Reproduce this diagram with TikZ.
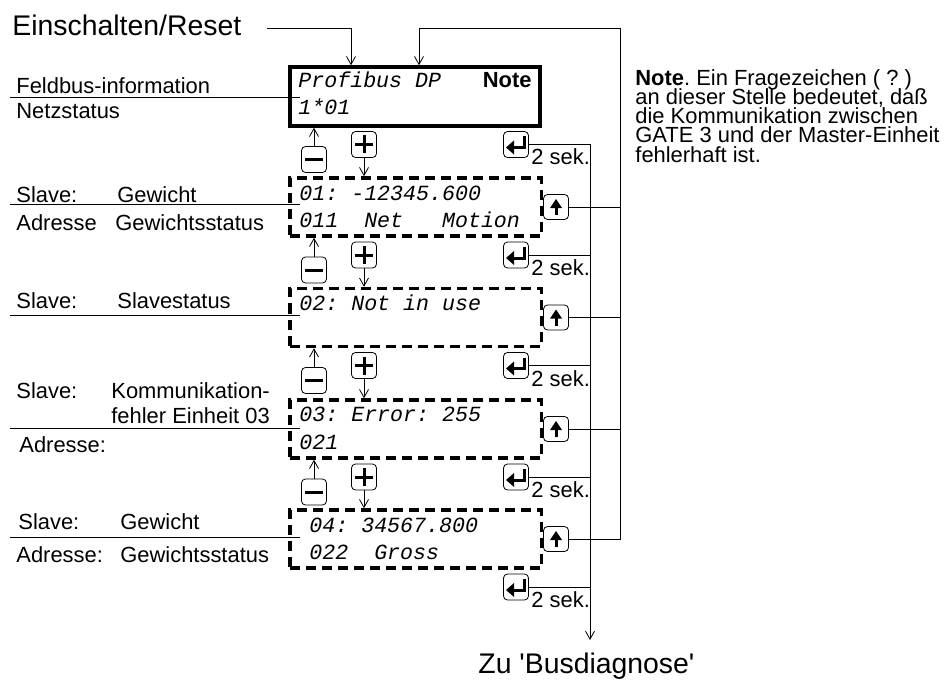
\documentclass[tikz,border=0pt]{standalone}
\usepackage{fontspec}
\setmainfont{Liberation Sans}
\newfontfamily\lcd{Liberation Mono}
\usetikzlibrary{arrows.meta,calc}
\newcommand{\lcdfont}{\lcd\itshape\fontsize{21.7}{24}\selectfont\frenchspacing}
\lineskiplimit=-50pt
\frenchspacing

\tikzset{
  txt/.style={inner sep=0pt,anchor=base west,font=\fontsize{22}{19.3}\selectfont},
  bigtxt/.style={txt,font=\fontsize{28.5}{34}\selectfont},
  lcdtxt/.style={inner sep=0pt,anchor=base west,font=\lcdfont},
  mainbox/.style={draw,line width=3.5bp,minimum width=250bp,minimum height=59bp,inner sep=0pt},
  lcdbox/.style={draw,dash pattern=on 10bp off 6bp,line width=3.5bp,minimum width=251.5bp,minimum height=58bp,inner sep=0pt},
  key/.style={draw,fill=white,rounded corners=4bp,minimum width=25bp,minimum height=26bp,inner sep=0pt,line width=0.8bp},
  keyplus/.style={key,path picture={\draw[black,sharp corners,line width=3bp,shift={(path picture bounding box.center)}] (-9bp,0bp) -- (9bp,0bp) (0bp,-9bp) -- (0bp,9bp);}},
  keyminus/.style={key,path picture={\draw[black,sharp corners,line width=3bp,shift={(path picture bounding box.center)}] (-9bp,0bp) -- (9bp,0bp);}},
  keyenter/.style={key,path picture={
    \draw[black,sharp corners,line width=3bp,shift={(path picture bounding box.center)}] (8bp,8bp) -- (8bp,-3bp) -- (-3bp,-3bp);
    \fill[black,sharp corners,shift={(path picture bounding box.center)}] (-10bp,-3bp) -- (-2bp,4bp) -- (-2bp,-10bp) -- cycle;}},
  keyup/.style={key,minimum height=25bp,path picture={
    \draw[black,sharp corners,line width=3bp,shift={(path picture bounding box.center)}] (0bp,-8bp) -- (0bp,0bp);
    \fill[black,sharp corners,shift={(path picture bounding box.center)}] (0bp,8bp) -- (-6bp,-1bp) -- (6bp,-1bp) -- cycle;}}
}

\begin{document}
\begin{tikzpicture}[x=1bp,y=-1bp,>={Straight Barb[length=8bp,width=9bp]},line width=0.8bp]
  \useasboundingbox (0,0) rectangle (945,680);
  % display boxes
  \node[mainbox] (main) at (415,96.5) {};
  \node[lcdtxt] (d0a) at (298,88) {Profibus DP};
  \node[lcdtxt] (d0b) at (298,115) {1*01};
  \node[txt,anchor=base east,font=\fontsize{22}{19.3}\selectfont\bfseries] (flag) at (532,88) {Note};
  \foreach \i/\y in {1/207,2/317.5,3/429,4/539} {
    \node[lcdbox] (b\i) at (415.5,\y) {};
    \node[keyup] (u\i) at (556,\y) {};
  }
  \foreach \i/\x/\y/\l in {1/299/200/{01: -12345.600},2/299/310/{02: Not in use},3/299/421/{03: Error: 255},4/309/532/{04: 34567.800}}
    \node[lcdtxt] (d\i a) at (\x,\y) {\l};
  \foreach \i/\x/\y/\l in {1/299/227/{011~~Net~~~Motion},3/299/449/{021},4/309/559/{022~~Gross}}
    \node[lcdtxt] (d\i b) at (\x,\y) {\l};
  % keys between the boxes
  \coordinate (bus) at (590,640);
  \coordinate (fb) at (620,28);
  \foreach \k/\up/\dn/\y in {0/main/b1/96.5,1/b1/b2/207,2/b2/b3/317.5,3/b3/b4/429} {
    \node[keyplus] (p\k) at (364,\y+48) {};
    \node[keyminus] (m\k) at (314,\y+63) {};
    \node[keyenter] (e\k) at (516,\y+48) {};
    \node[txt] (s\k) at (531,\y+68.5) {2 sek.};
    \draw[->] (m\k.north) -- (m\k.north |- \up.south);
    \draw[->] (p\k.south) -- (p\k.south |- \dn.north);
  }
  \node[keyenter] (e4) at (516,587) {};
  \node[txt] (s4) at (531,607.5) {2 sek.};
  \draw[->] (e0.east) -| (bus);
  \foreach \k in {1,2,3,4} \draw (e\k.east) -- (e\k.east -| bus);
  \foreach \i in {1,2,3} \draw (u\i.east) -- (u\i.east -| fb);
  \draw[->] (u4.east) -| (fb) -| ([xshift=4bp]main.north);
  % start
  \node[bigtxt] (title) at (12,36) {Einschalten/Reset};
  \coordinate (reset) at (267,28);
  \draw[->] (reset) -| ([xshift=-64bp]main.north);
  \node[bigtxt] (zu) at (478,673) {Zu \textquotesingle Busdiagnose\textquotesingle};
  % labels on the left
  \node[txt] (l0a) at (16,94) {Feldbus-information};
  \node[txt] (l0b) at (16,119) {Netzstatus};
  \node[txt] (l1a) at (16,202) {Slave:};
  \node[txt] (l1b) at (117,202) {Gewicht};
  \node[txt] (l1c) at (16,230) {Adresse};
  \node[txt] (l1d) at (115,230) {Gewichtsstatus};
  \node[txt] (l2a) at (16,308) {Slave:};
  \node[txt] (l2b) at (117,308) {Slavestatus};
  \node[txt] (l3a) at (16,398) {Slave:};
  \node[txt,align=left] (l3b) at (111,423) {Kommunikation-\\[5.7bp]fehler Einheit 03};
  \node[txt] (l3c) at (19,452) {Adresse:};
  \node[txt] (l4a) at (18,529) {Slave:};
  \node[txt] (l4b) at (120,529) {Gewicht};
  \node[txt] (l4c) at (16,562) {Adresse:};
  \node[txt] (l4d) at (120,562) {Gewichtsstatus};
  \foreach \i/\y/\b in {0/97/main,1/204/b1,2/315/b2,3/428/b3,4/537/b4} {
    \coordinate (f\i) at (10,\y);
    \draw (f\i) -- ([xshift=12bp]f\i -| \b.west);
  }
  % note
  \node[txt,align=left] (hint) at (635,162.2) {\textbf{Note}. Ein Fragezeichen ( ? )\\an dieser Stelle bedeutet, daß\\die Kommunikation zwischen\\GATE 3 und der Master-Einheit\\fehlerhaft ist.};
\end{tikzpicture}
\end{document}
